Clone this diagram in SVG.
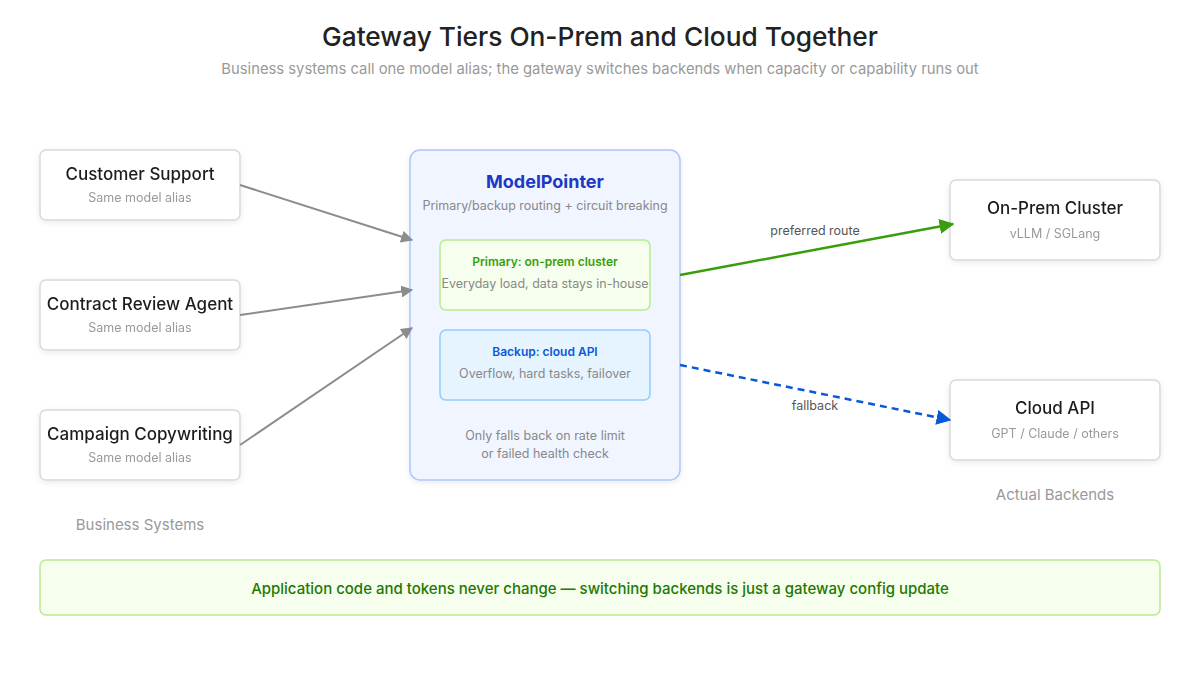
<svg xmlns="http://www.w3.org/2000/svg" width="1200" height="700" viewBox="0 0 1200 700">
<defs>
<filter id="sh" x="-20%" y="-20%" width="140%" height="150%">
<feDropShadow dx="0" dy="2" stdDeviation="3" flood-color="#000" flood-opacity="0.08"/>
</filter>
<marker id="mg" viewBox="0 0 10 10" refX="9" refY="5" markerWidth="6" markerHeight="6" orient="auto" markerUnits="strokeWidth"><path d="M0,0 L10,5 L0,10 z" fill="#8c8c8c"/></marker>
<marker id="mgr" viewBox="0 0 10 10" refX="9" refY="5" markerWidth="6" markerHeight="6" orient="auto" markerUnits="strokeWidth"><path d="M0,0 L10,5 L0,10 z" fill="#389e0d"/></marker>
<marker id="mb" viewBox="0 0 10 10" refX="9" refY="5" markerWidth="6" markerHeight="6" orient="auto" markerUnits="strokeWidth"><path d="M0,0 L10,5 L0,10 z" fill="#0958d9"/></marker>
</defs>
<style>
text{font-family:Inter,"Liberation Sans","Noto Sans",Arial,sans-serif;text-anchor:middle}
.node{fill:#fff;stroke:#d9d9d9;stroke-width:1.5}
.nt{font-size:17px;fill:#1f1f1f;font-weight:500}
.ns{font-size:12.5px;fill:#999}
.lbl{font-size:12.5px;fill:#555}
.grp{font-size:15px;fill:#999}
.mute{font-size:12.5px;fill:#888}
</style>
<rect width="1200" height="700" fill="#fff"/>
<text x="600" y="46" font-size="26.3" fill="#222" font-weight="500">Gateway Tiers On-Prem and Cloud Together</text>
<text x="600" y="74" font-size="14.8" fill="#999">Business systems call one model alias; the gateway switches backends when capacity or capability runs out</text>

<g id="customer-support" filter="url(#sh)"><rect class="node" x="40" y="150" width="200" height="70" rx="6"/><text class="nt" x="140" y="180">Customer Support</text><text class="ns" x="140" y="202">Same model alias</text></g>
<g id="contract-review" filter="url(#sh)"><rect class="node" x="40" y="280" width="200" height="70" rx="6"/><text class="nt" x="140" y="310">Contract Review Agent</text><text class="ns" x="140" y="332">Same model alias</text></g>
<g id="campaign" filter="url(#sh)"><rect class="node" x="40" y="410" width="200" height="70" rx="6"/><text class="nt" x="140" y="440">Campaign Copywriting</text><text class="ns" x="140" y="462">Same model alias</text></g>
<text class="grp" x="140" y="530">Business Systems</text>

<g id="gateway">
<rect x="410" y="150" width="270" height="330" rx="10" fill="#f0f5ff" stroke="#adc6ff" stroke-width="1.5" filter="url(#sh)"/>
<text x="545" y="188" font-size="18" font-weight="bold" fill="#1d39c4">ModelPointer</text>
<text class="mute" x="545" y="210">Primary/backup routing + circuit breaking</text>
<g id="primary"><rect x="440" y="240" width="210" height="70" rx="6" fill="#f6ffed" stroke="#b7eb8f" stroke-width="1.5"/><text x="545" y="266" font-size="12" font-weight="600" fill="#389e0d">Primary: on-prem cluster</text><text class="mute" x="545" y="288">Everyday load, data stays in-house</text></g>
<g id="backup"><rect x="440" y="330" width="210" height="70" rx="6" fill="#e6f4ff" stroke="#91caff" stroke-width="1.5"/><text x="545" y="356" font-size="12" font-weight="600" fill="#0958d9">Backup: cloud API</text><text class="mute" x="545" y="378">Overflow, hard tasks, failover</text></g>
<text class="mute" x="545" y="440">Only falls back on rate limit</text>
<text class="mute" x="545" y="458">or failed health check</text>
</g>

<g id="onprem" filter="url(#sh)"><rect class="node" x="950" y="180" width="210" height="80" rx="6"/><text class="nt" x="1055" y="214">On-Prem Cluster</text><text class="ns" x="1055" y="238">vLLM / SGLang</text></g>
<g id="cloud" filter="url(#sh)"><rect class="node" x="950" y="380" width="210" height="80" rx="6"/><text class="nt" x="1055" y="414">Cloud API</text><text class="ns" x="1055" y="438">GPT / Claude / others</text></g>
<text class="grp" x="1055" y="500">Actual Backends</text>

<g id="connectors" fill="none">
<line x1="240" y1="185" x2="412" y2="240" stroke="#8c8c8c" stroke-width="2" marker-end="url(#mg)"/>
<line x1="240" y1="315" x2="412" y2="290" stroke="#8c8c8c" stroke-width="2" marker-end="url(#mg)"/>
<line x1="240" y1="445" x2="412" y2="328" stroke="#8c8c8c" stroke-width="2" marker-end="url(#mg)"/>
<line x1="680" y1="275" x2="953" y2="224" stroke="#389e0d" stroke-width="2.5" marker-end="url(#mgr)"/>
<line x1="680" y1="365" x2="950" y2="420" stroke="#0958d9" stroke-width="2.5" stroke-dasharray="7 5" marker-end="url(#mb)"/>
<text class="lbl" x="815" y="235">preferred route</text>
<text class="lbl" x="815" y="410">fallback</text>
</g>

<g id="banner"><rect x="40" y="560" width="1120" height="55" rx="6" fill="#f6ffed" stroke="#b7eb8f" stroke-width="1.5"/><text x="600" y="594" font-size="15" font-weight="500" fill="#237804">Application code and tokens never change — switching backends is just a gateway config update</text></g>
</svg>
